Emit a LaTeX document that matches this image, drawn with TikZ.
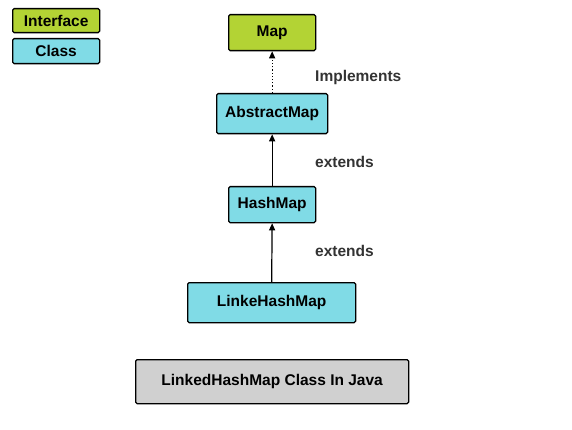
\documentclass[tikz,border=0pt]{standalone}
\usepackage{fontspec}
\setmainfont{Liberation Sans}
\usetikzlibrary{arrows.meta}
\definecolor{ifc}{HTML}{B3D334}
\definecolor{clc}{HTML}{80DBE6}
\definecolor{ttc}{HTML}{D0D0D0}
\definecolor{lbc}{HTML}{333333}
\begin{document}
\begin{tikzpicture}[x=1pt,y=-1pt,
  box/.style={draw=black,line width=1.3pt,rounded corners=1.5pt,font=\fontsize{15.5}{18}\selectfont\bfseries,inner sep=0pt,anchor=north west},
  iface/.style={box,fill=ifc},
  cls/.style={box,fill=clc},
  lbl/.style={font=\fontsize{15.5}{18}\selectfont\bfseries,text=lbc,anchor=west,inner sep=0pt},
  arr/.style={line width=1.2pt,-{Triangle[length=7pt,width=6pt]}}]
\useasboundingbox (0,0) rectangle (572,430);
\fill[white] (0,0) rectangle (572,430);
\node[iface,minimum width=87pt,minimum height=24pt] (leg1) at (12,8) {Interface};
\node[cls,minimum width=87pt,minimum height=25pt] (leg2) at (12,38) {Class};
\node[iface,minimum width=87pt,minimum height=36pt] (map) at (228,14) {Map};
\node[cls,minimum width=111pt,minimum height=40pt] (am) at (216,93) {AbstractMap};
\node[cls,minimum width=87pt,minimum height=36pt] (hm) at (228,186) {HashMap};
\node[cls,minimum width=168pt,minimum height=40pt] (lhm) at (187,282) {LinkeHashMap};
\node[box,fill=ttc,minimum width=273pt,minimum height=44pt] (title) at (135,359) {LinkedHashMap Class In Java};
\draw[arr,dotted] (am.north) -- (map.south);
\draw[arr] (hm.north) -- (am.south);
\draw[arr] (lhm.north) -- (hm.south);
\node[lbl] (l1) at (315,77) {Implements};
\node[lbl] (l2) at (315,162) {extends};
\node[lbl] (l3) at (315,251) {extends};
\end{tikzpicture}
\end{document}
